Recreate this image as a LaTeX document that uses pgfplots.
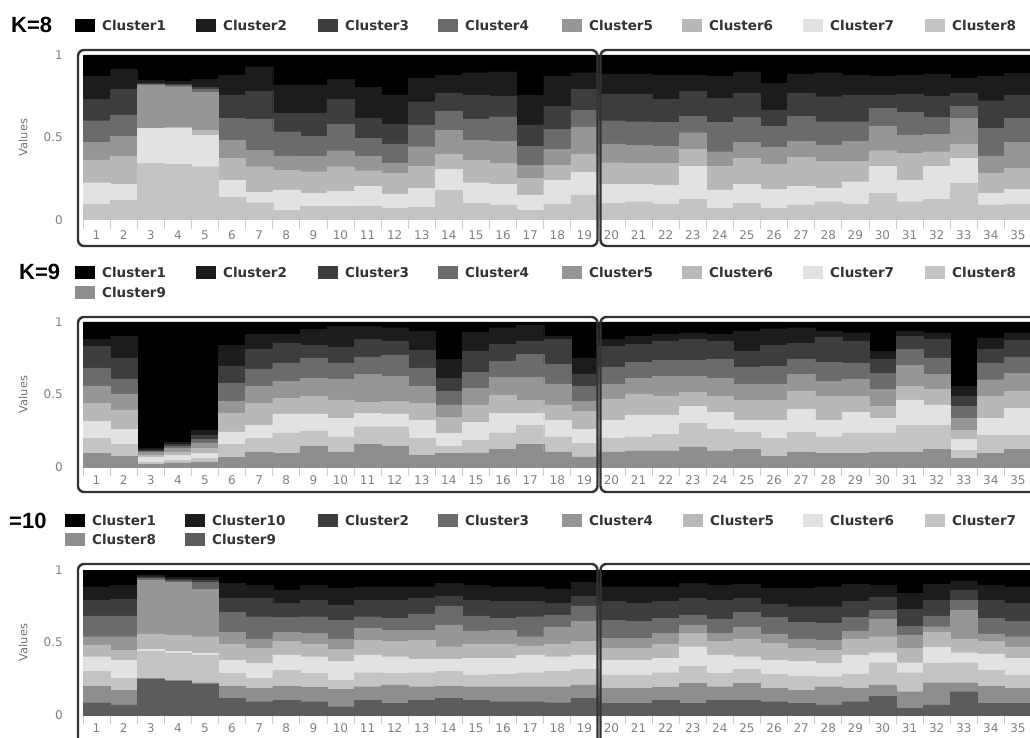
\documentclass[border=0pt]{standalone}
\usepackage{fontspec}
\setmainfont{DejaVu Sans}
\newfontfamily\titlefont{Liberation Sans}
\usepackage{pgfplots}
\usepackage{pgfplotstable}
\pgfplotsset{compat=1.18}

\definecolor{s1}{HTML}{000000}
\definecolor{s2}{HTML}{1C1C1C}
\definecolor{s3}{HTML}{3D3D3D}
\definecolor{s4}{HTML}{6B6B6B}
\definecolor{s5}{HTML}{969696}
\definecolor{s6}{HTML}{B8B8B8}
\definecolor{s7}{HTML}{E2E2E2}
\definecolor{s8}{HTML}{C4C4C4}
\definecolor{s9}{HTML}{8E8E8E}
\definecolor{s10}{HTML}{5C5C5C}

% cumulative membership (top of each cluster's segment), K=8; stack bottom->top: C8..C1
\pgfplotstableread{
x t1 t2 t3 t4 t5 t6 t7 t8
1 1 0.873 0.733 0.602 0.469 0.364 0.226 0.097
2 1 0.913 0.794 0.636 0.509 0.384 0.216 0.121
3 1 0.848 0.828 0.824 0.816 0.556 0.556 0.343
4 1 0.842 0.822 0.818 0.808 0.562 0.556 0.339
5 1 0.853 0.804 0.792 0.772 0.545 0.515 0.323
6 1 0.879 0.758 0.616 0.481 0.374 0.242 0.137
7 1 0.929 0.778 0.610 0.424 0.323 0.166 0.105
8 1 0.818 0.646 0.535 0.388 0.303 0.182 0.057
9 1 0.818 0.646 0.509 0.384 0.293 0.162 0.081
10 1 0.853 0.731 0.582 0.420 0.323 0.172 0.081
11 1 0.804 0.616 0.495 0.384 0.299 0.206 0.085
12 1 0.758 0.582 0.461 0.343 0.283 0.158 0.071
13 1 0.857 0.717 0.576 0.444 0.327 0.192 0.077
14 1 0.879 0.768 0.657 0.545 0.400 0.307 0.178
15 1 0.893 0.758 0.610 0.481 0.360 0.226 0.101
16 1 0.899 0.752 0.626 0.475 0.343 0.218 0.091
17 1 0.758 0.576 0.448 0.333 0.253 0.152 0.057
18 1 0.873 0.687 0.549 0.428 0.333 0.242 0.097
19 1 0.893 0.792 0.663 0.562 0.400 0.287 0.152
20 1 0.885 0.764 0.602 0.461 0.347 0.218 0.101
21 1 0.885 0.764 0.596 0.451 0.343 0.218 0.111
22 1 0.879 0.731 0.590 0.448 0.343 0.212 0.097
23 1 0.879 0.778 0.630 0.529 0.428 0.327 0.125
24 1 0.869 0.737 0.590 0.414 0.327 0.182 0.071
25 1 0.899 0.768 0.622 0.469 0.374 0.218 0.101
26 1 0.828 0.667 0.566 0.440 0.339 0.186 0.071
27 1 0.885 0.768 0.630 0.475 0.380 0.206 0.091
28 1 0.893 0.747 0.596 0.455 0.354 0.192 0.111
29 1 0.879 0.758 0.596 0.475 0.354 0.232 0.097
30 1 0.873 0.758 0.677 0.570 0.420 0.327 0.162
31 1 0.879 0.764 0.651 0.515 0.404 0.242 0.111
32 1 0.885 0.752 0.622 0.521 0.414 0.327 0.125
33 1 0.859 0.768 0.691 0.616 0.461 0.374 0.222
34 1 0.873 0.723 0.556 0.388 0.283 0.162 0.091
35 1 0.889 0.758 0.616 0.469 0.313 0.186 0.097
}\kEight

\pgfplotstableread{
x t1 t2 t3 t4 t5 t6 t7 t8 t9
1 1 0.880 0.833 0.683 0.560 0.440 0.313 0.197 0.093
2 1 0.903 0.752 0.606 0.505 0.394 0.259 0.157 0.074
3 1 0.127 0.116 0.111 0.102 0.081 0.069 0.035 0.019
4 1 0.174 0.157 0.144 0.127 0.104 0.081 0.046 0.028
5 1 0.255 0.220 0.190 0.162 0.127 0.093 0.058 0.035
6 1 0.838 0.694 0.579 0.451 0.370 0.243 0.157 0.065
7 1 0.914 0.810 0.676 0.556 0.440 0.289 0.197 0.104
8 1 0.914 0.856 0.718 0.590 0.475 0.366 0.236 0.093
9 1 0.949 0.838 0.752 0.613 0.486 0.366 0.250 0.144
10 1 0.972 0.829 0.713 0.606 0.463 0.336 0.208 0.104
11 1 0.968 0.880 0.759 0.637 0.444 0.370 0.278 0.157
12 1 0.961 0.868 0.769 0.625 0.451 0.366 0.278 0.144
13 1 0.938 0.806 0.683 0.556 0.440 0.324 0.197 0.081
14 1 0.741 0.613 0.521 0.428 0.343 0.231 0.144 0.093
15 1 0.931 0.799 0.653 0.544 0.428 0.306 0.185 0.097
16 1 0.961 0.845 0.729 0.620 0.498 0.370 0.236 0.120
17 1 0.977 0.868 0.775 0.620 0.458 0.370 0.289 0.157
18 1 0.903 0.880 0.706 0.574 0.428 0.324 0.208 0.104
19 1 0.752 0.637 0.560 0.451 0.382 0.259 0.162 0.069
20 1 0.880 0.833 0.690 0.574 0.468 0.324 0.197 0.104
21 1 0.903 0.845 0.722 0.613 0.505 0.359 0.208 0.111
22 1 0.914 0.868 0.736 0.625 0.491 0.359 0.227 0.111
23 1 0.926 0.884 0.736 0.625 0.514 0.417 0.301 0.139
24 1 0.914 0.868 0.745 0.613 0.486 0.375 0.259 0.111
25 1 0.938 0.799 0.690 0.574 0.458 0.324 0.243 0.120
26 1 0.954 0.838 0.694 0.574 0.458 0.324 0.197 0.074
27 1 0.961 0.852 0.745 0.637 0.521 0.398 0.243 0.104
28 1 0.938 0.898 0.722 0.590 0.486 0.324 0.208 0.093
29 1 0.926 0.868 0.713 0.606 0.486 0.375 0.236 0.093
30 1 0.799 0.745 0.648 0.537 0.417 0.336 0.236 0.104
31 1 0.938 0.903 0.810 0.699 0.556 0.463 0.289 0.104
32 1 0.926 0.884 0.752 0.637 0.537 0.428 0.289 0.120
33 1 0.556 0.486 0.417 0.336 0.255 0.190 0.116 0.058
34 1 0.891 0.810 0.713 0.602 0.486 0.336 0.220 0.093
35 1 0.926 0.875 0.759 0.648 0.521 0.405 0.220 0.120
}\kNine

% K=10, columns in stack order from top: C1, C10, C2, C3, C4, C5, C6, C7, C8, C9
\pgfplotstableread{
x t1 t2 t3 t4 t5 t6 t7 t8 t9 t10
1 1 0.885 0.793 0.683 0.540 0.483 0.402 0.299 0.200 0.085
2 1 0.897 0.798 0.683 0.540 0.448 0.375 0.253 0.172 0.069
3 1 0.966 0.954 0.943 0.931 0.559 0.453 0.437 0.253 0.246
4 1 0.949 0.936 0.926 0.917 0.552 0.437 0.425 0.241 0.232
5 1 0.949 0.931 0.913 0.867 0.540 0.425 0.411 0.223 0.214
6 1 0.908 0.805 0.706 0.568 0.490 0.379 0.287 0.200 0.115
7 1 0.897 0.805 0.678 0.522 0.460 0.356 0.253 0.184 0.092
8 1 0.862 0.770 0.674 0.568 0.506 0.414 0.310 0.200 0.099
9 1 0.897 0.793 0.678 0.563 0.490 0.402 0.287 0.191 0.092
10 1 0.874 0.759 0.651 0.522 0.453 0.368 0.241 0.177 0.057
11 1 0.885 0.789 0.678 0.598 0.517 0.414 0.292 0.195 0.099
12 1 0.885 0.793 0.667 0.582 0.506 0.402 0.287 0.207 0.080
13 1 0.885 0.805 0.697 0.586 0.517 0.384 0.292 0.195 0.099
14 1 0.908 0.821 0.752 0.621 0.471 0.384 0.299 0.200 0.115
15 1 0.897 0.793 0.683 0.575 0.490 0.391 0.276 0.195 0.103
16 1 0.885 0.782 0.667 0.586 0.490 0.391 0.283 0.195 0.092
17 1 0.885 0.782 0.678 0.540 0.476 0.414 0.292 0.195 0.092
18 1 0.867 0.770 0.690 0.605 0.490 0.402 0.299 0.195 0.085
19 1 0.913 0.821 0.752 0.644 0.506 0.414 0.315 0.207 0.115
20 1 0.885 0.782 0.655 0.529 0.460 0.379 0.276 0.184 0.080
21 1 0.885 0.770 0.644 0.529 0.460 0.379 0.276 0.184 0.080
22 1 0.885 0.782 0.667 0.563 0.490 0.391 0.292 0.191 0.099
23 1 0.908 0.805 0.690 0.621 0.563 0.471 0.338 0.218 0.080
24 1 0.897 0.793 0.660 0.563 0.506 0.414 0.287 0.195 0.099
25 1 0.903 0.805 0.706 0.605 0.522 0.402 0.315 0.218 0.103
26 1 0.874 0.766 0.674 0.559 0.494 0.379 0.283 0.184 0.092
27 1 0.874 0.747 0.637 0.522 0.460 0.368 0.269 0.172 0.080
28 1 0.885 0.747 0.632 0.517 0.448 0.356 0.264 0.195 0.069
29 1 0.903 0.782 0.674 0.575 0.522 0.414 0.283 0.184 0.092
30 1 0.897 0.811 0.720 0.660 0.540 0.430 0.361 0.207 0.131
31 1 0.839 0.729 0.614 0.552 0.460 0.361 0.292 0.161 0.046
32 1 0.903 0.793 0.683 0.609 0.568 0.467 0.356 0.223 0.069
33 1 0.926 0.862 0.793 0.720 0.522 0.430 0.361 0.223 0.161
34 1 0.897 0.793 0.667 0.559 0.506 0.421 0.310 0.200 0.080
35 1 0.885 0.770 0.644 0.540 0.467 0.391 0.276 0.184 0.080
}\kTen

\pgfplotsset{
  lay/.style={ybar, bar width=1, bar shift=0pt, fill=#1, draw=#1, line width=0.3pt},
  strc/.style={
    scale only axis, width=948.5pt,
    xmin=0.5, xmax=35.5, ymin=0, ymax=1,
    axis line style={draw=none},
    tick pos=left,
    xtick={1,...,35}, ytick={0,0.5,1},
    major tick length=0pt,
    /pgf/number format/assume math mode=true,
    ticklabel style={font=\fontsize{12}{14}\selectfont, text=black!50},
    yticklabel style={inner sep=0pt, anchor=east, xshift=-20pt},
    extra x ticks={0.5,1.5,...,35.5},
    extra x tick labels={},
    extra x tick style={major tick length=9pt, tick align=outside,
      tick style={black!20, line width=0.8pt}},
    ylabel={Values},
    every axis y label/.style={at={(axis description cs:-0.0633,0.5)},
      rotate=90, anchor=center, font=\fontsize{11.5}{13}\selectfont, text=black!55},
  },
}

\newcommand{\legitem}[4]{%
  \fill[#3] (#1,{737-#2-6.5}) rectangle ({#1+20},{737-#2+6.5});
  \node[anchor=base west, inner sep=0pt, font=\bfseries\fontsize{13.5}{16}\selectfont, text=black!80]
    at ({#1+27},{737-#2-5}) {#4};}

\begin{document}
\begin{tikzpicture}[x=1pt,y=1pt]
\useasboundingbox (0,0) rectangle (1030,737);
\clip (0,0) rectangle (1030,737);

% ---------------- K=8 ----------------
\begin{axis}[strc, at={(83pt,517pt)}, anchor=south west, height=165pt,
  xticklabel style={inner sep=0pt, yshift=-10.6pt}]
\addplot[lay=s1] table[x=x,y=t1]{\kEight};
\addplot[lay=s2] table[x=x,y=t2]{\kEight};
\addplot[lay=s3] table[x=x,y=t3]{\kEight};
\addplot[lay=s4] table[x=x,y=t4]{\kEight};
\addplot[lay=s5] table[x=x,y=t5]{\kEight};
\addplot[lay=s6] table[x=x,y=t6]{\kEight};
\addplot[lay=s7] table[x=x,y=t7]{\kEight};
\addplot[lay=s8] table[x=x,y=t8]{\kEight};
\end{axis}

% ---------------- K=9 ----------------
\begin{axis}[strc, at={(83pt,270pt)}, anchor=south west, height=145pt,
  xticklabel style={inner sep=0pt, yshift=-8.8pt}]
\addplot[lay=s1] table[x=x,y=t1]{\kNine};
\addplot[lay=s2] table[x=x,y=t2]{\kNine};
\addplot[lay=s3] table[x=x,y=t3]{\kNine};
\addplot[lay=s4] table[x=x,y=t4]{\kNine};
\addplot[lay=s5] table[x=x,y=t5]{\kNine};
\addplot[lay=s6] table[x=x,y=t6]{\kNine};
\addplot[lay=s7] table[x=x,y=t7]{\kNine};
\addplot[lay=s8] table[x=x,y=t8]{\kNine};
\addplot[lay=s9] table[x=x,y=t9]{\kNine};
\end{axis}

% ---------------- K=10 ----------------
\begin{axis}[strc, at={(83pt,22pt)}, anchor=south west, height=145pt,
  xticklabel style={inner sep=0pt, yshift=-8.2pt}]
\addplot[lay=s1] table[x=x,y=t1]{\kTen};
\addplot[lay=s2] table[x=x,y=t2]{\kTen};
\addplot[lay=s3] table[x=x,y=t3]{\kTen};
\addplot[lay=s4] table[x=x,y=t4]{\kTen};
\addplot[lay=s5] table[x=x,y=t5]{\kTen};
\addplot[lay=s6] table[x=x,y=t6]{\kTen};
\addplot[lay=s7] table[x=x,y=t7]{\kTen};
\addplot[lay=s8] table[x=x,y=t8]{\kTen};
\addplot[lay=s9] table[x=x,y=t9]{\kTen};
\addplot[lay=s10] table[x=x,y=t10]{\kTen};
\end{axis}

% frames
\begin{scope}[black!80, line width=2.4pt, rounded corners=6pt]
\draw (78,687) rectangle (597.5,491);
\draw (600.5,687) rectangle (1070,491);
\draw (78,420) rectangle (597.5,245);
\draw (600.5,420) rectangle (1070,245);
\draw (78,173) rectangle (597.5,-30);
\draw (600.5,173) rectangle (1070,-30);
\end{scope}

% titles
\node[anchor=base west, inner sep=0pt, font=\titlefont\bfseries\fontsize{22}{26}\selectfont] at (11,704) {K=8};
\node[anchor=base west, inner sep=0pt, font=\titlefont\bfseries\fontsize{22}{26}\selectfont] at (19,457) {K=9};
\node[anchor=base west, inner sep=0pt, font=\titlefont\bfseries\fontsize{22}{26}\selectfont] at (9,209) {=10};

% legends
\legitem{75}{26}{s1}{Cluster1}
\legitem{196}{26}{s2}{Cluster2}
\legitem{318}{26}{s3}{Cluster3}
\legitem{438}{26}{s4}{Cluster4}
\legitem{562}{26}{s5}{Cluster5}
\legitem{682}{26}{s6}{Cluster6}
\legitem{803}{26}{s7}{Cluster7}
\legitem{925}{26}{s8}{Cluster8}

\legitem{75}{273}{s1}{Cluster1}
\legitem{196}{273}{s2}{Cluster2}
\legitem{318}{273}{s3}{Cluster3}
\legitem{438}{273}{s4}{Cluster4}
\legitem{562}{273}{s5}{Cluster5}
\legitem{682}{273}{s6}{Cluster6}
\legitem{803}{273}{s7}{Cluster7}
\legitem{925}{273}{s8}{Cluster8}
\legitem{75}{293}{s9}{Cluster9}

\legitem{65}{520}{s1}{Cluster1}
\legitem{185}{520}{s2}{Cluster10}
\legitem{318}{520}{s3}{Cluster2}
\legitem{438}{520}{s4}{Cluster3}
\legitem{562}{520}{s5}{Cluster4}
\legitem{683}{520}{s6}{Cluster5}
\legitem{803}{520}{s7}{Cluster6}
\legitem{925}{520}{s8}{Cluster7}
\legitem{65}{539}{s9}{Cluster8}
\legitem{185}{539}{s10}{Cluster9}
\end{tikzpicture}
\end{document}
